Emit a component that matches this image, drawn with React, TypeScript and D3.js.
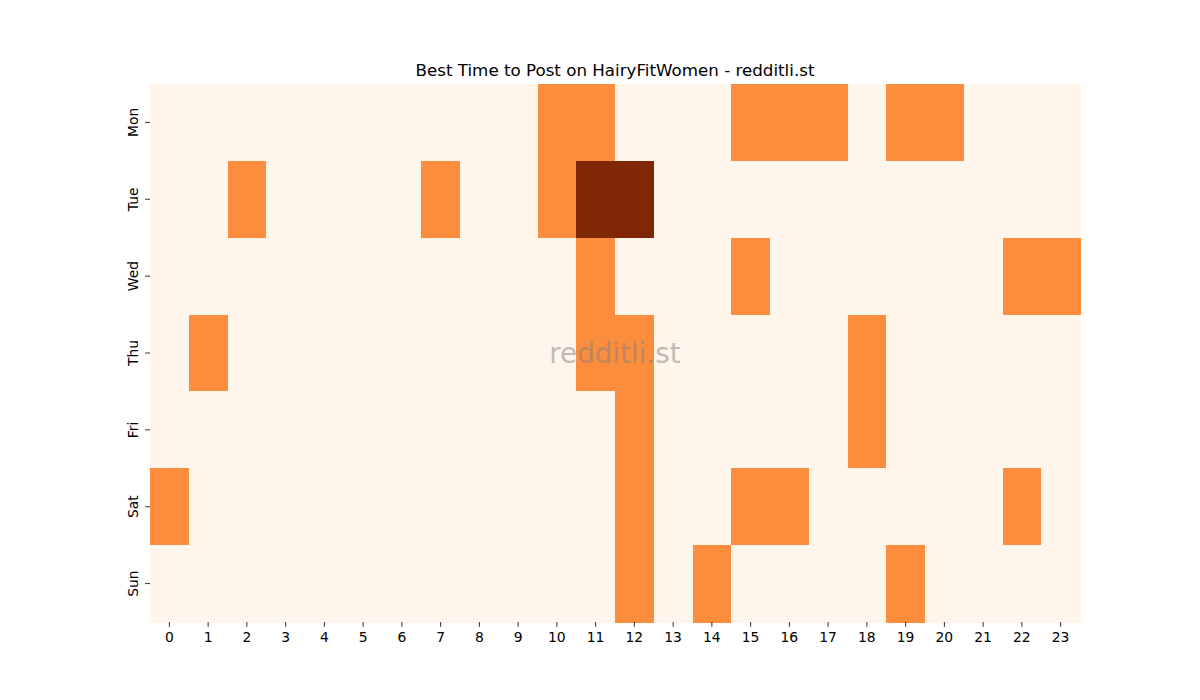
import React, { useRef, useEffect } from "react";
import * as d3 from "d3";

// rows = weekdays, columns = hour of day (0-23)
const days = ["Mon", "Tue", "Wed", "Thu", "Fri", "Sat", "Sun"];
const hours = d3.range(24).map(String);

const mon = [0, 0, 0, 0, 0, 0, 0, 0, 0, 0, 1, 1, 0, 0, 0, 1, 1, 1, 0, 1, 1, 0, 0, 0];
const tue = [0, 0, 1, 0, 0, 0, 0, 1, 0, 0, 1, 2, 2, 0, 0, 0, 0, 0, 0, 0, 0, 0, 0, 0];
const wed = [0, 0, 0, 0, 0, 0, 0, 0, 0, 0, 0, 1, 0, 0, 0, 1, 0, 0, 0, 0, 0, 0, 1, 1];
const thu = [0, 1, 0, 0, 0, 0, 0, 0, 0, 0, 0, 1, 1, 0, 0, 0, 0, 0, 1, 0, 0, 0, 0, 0];
const fri = [0, 0, 0, 0, 0, 0, 0, 0, 0, 0, 0, 0, 1, 0, 0, 0, 0, 0, 1, 0, 0, 0, 0, 0];
const sat = [1, 0, 0, 0, 0, 0, 0, 0, 0, 0, 0, 0, 1, 0, 0, 1, 1, 0, 0, 0, 0, 0, 1, 0];
const sun = [0, 0, 0, 0, 0, 0, 0, 0, 0, 0, 0, 0, 1, 0, 1, 0, 0, 0, 0, 1, 0, 0, 0, 0];

const rows = [mon, tue, wed, thu, fri, sat, sun];

const title = "Best Time to Post on HairyFitWomen - redditli.st";
const watermark = "redditli.st";

const App = () => {
  const svgRef = useRef(null);

  useEffect(() => {
    const width = 1200;
    const height = 700;
    const margin = { left: 150, right: 120, top: 84, bottom: 78 };
    const innerW = width - margin.left - margin.right;
    const innerH = height - margin.top - margin.bottom;
    const font = "'DejaVu Sans', sans-serif";

    const svg = d3.select(svgRef.current).attr("width", width).attr("height", height);
    svg.selectAll("*").remove();

    svg.append("rect").attr("width", width).attr("height", height).attr("fill", "white");

    const g = svg.append("g").attr("transform", `translate(${margin.left},${margin.top})`);

    const x = d3.scaleBand().domain(hours).range([0, innerW]);
    const y = d3.scaleBand().domain(days).range([0, innerH]);
    const color = d3.scaleSequential(d3.interpolateOranges).domain([0, 2]);

    const cells = rows.flatMap((r, i) => r.map((v, j) => ({ day: days[i], hour: hours[j], v })));

    g.selectAll("rect.cell")
      .data(cells)
      .join("rect")
      .attr("class", "cell")
      .attr("x", (d) => x(d.hour))
      .attr("y", (d) => y(d.day))
      .attr("width", x.bandwidth() + 0.5)
      .attr("height", y.bandwidth() + 0.5)
      .attr("fill", (d) => color(d.v))
      .attr("shape-rendering", "crispEdges");

    // x axis
    const xAxis = g
      .append("g")
      .attr("transform", `translate(0,${innerH})`)
      .call(d3.axisBottom(x).tickSize(4.9).tickPadding(4.9));
    xAxis.select(".domain").remove();
    xAxis.selectAll("line").attr("stroke", "black").attr("stroke-width", 0.8);
    xAxis.selectAll("text").attr("font-family", font).attr("font-size", 13.9).attr("fill", "black");

    // y axis
    const yAxis = g.append("g").call(d3.axisLeft(y).tickSize(4.9).tickFormat(() => ""));
    yAxis.select(".domain").remove();
    yAxis.selectAll("line").attr("stroke", "black").attr("stroke-width", 0.8);

    g.selectAll("text.ylab")
      .data(days)
      .join("text")
      .attr("class", "ylab")
      .attr("transform", (d) => `translate(-12,${y(d) + y.bandwidth() / 2}) rotate(-90)`)
      .attr("text-anchor", "middle")
      .attr("font-family", font)
      .attr("font-size", 13.9)
      .attr("fill", "black")
      .text((d) => d);

    // title
    svg
      .append("text")
      .attr("x", margin.left + innerW / 2)
      .attr("y", 76)
      .attr("text-anchor", "middle")
      .attr("font-family", font)
      .attr("font-size", 16.7)
      .attr("fill", "black")
      .text(title);

    // watermark
    svg
      .append("text")
      .attr("x", margin.left + innerW / 2)
      .attr("y", margin.top + innerH / 2)
      .attr("text-anchor", "middle")
      .attr("dominant-baseline", "central")
      .attr("font-family", font)
      .attr("font-size", 27.8)
      .attr("fill", "gray")
      .attr("fill-opacity", 0.5)
      .text(watermark);
  }, []);

  return <svg ref={svgRef} style={{ position: "absolute", left: 0, top: 0 }} />;
};

export default App;
